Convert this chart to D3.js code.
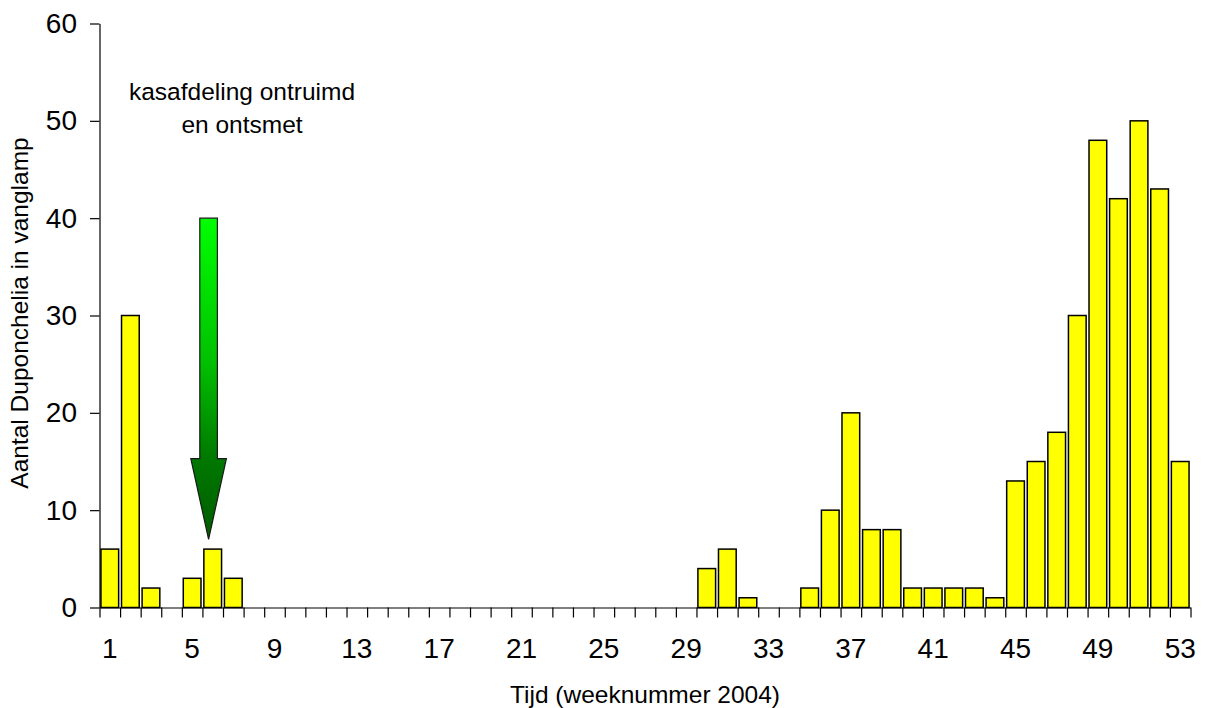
<!DOCTYPE html>
<html>
<head>
<meta charset="utf-8">
<script src="https://cdn.jsdelivr.net/npm/d3@7"></script>
<style>
  html, body { margin: 0; padding: 0; background: #fff; }
  svg { display: block; font-family: "Liberation Sans", Arial, sans-serif; }
</style>
</head>
<body>
<svg id="chart" width="1205" height="708"></svg>
<script>
// Week numbers of 2004 (categories)
const weeks = [1, 2, 3, 4, 5, 6, 7, 8, 9, 10, 11, 12, 13, 14, 15, 16, 17, 18, 19, 20,
  21, 22, 23, 24, 25, 26, 27, 28, 29, 30, 31, 32, 33, 34, 35, 36, 37, 38, 39, 40,
  41, 42, 43, 44, 45, 46, 47, 48, 49, 50, 51, 52, 53];

// Number of Duponchelia moths caught in the light trap per week
const catches = [6, 30, 2, 0, 3, 6, 3, 0, 0, 0, 0, 0, 0, 0, 0, 0, 0, 0, 0, 0,
  0, 0, 0, 0, 0, 0, 0, 0, 0, 4, 6, 1, 0, 0, 2, 10, 20, 8, 8, 2,
  2, 2, 2, 1, 13, 15, 18, 30, 48, 42, 50, 43, 15];

// Axis tick labels
const xTickWeeks = [1, 5, 9, 13, 17, 21, 25, 29, 33, 37, 41, 45, 49, 53];
const yTickValues = [0, 10, 20, 30, 40, 50, 60];

// Annotation: greenhouse section cleared and disinfected
const noteLines = ["kasafdeling ontruimd", "en ontsmet"];
const arrowWeek = 5.8;     // position on the continuous week axis
const arrowFrom = 40;      // top of the arrow (count units)
const arrowHeadAt = 15.3;  // where the arrow head starts
const arrowTo = 7;         // arrow tip

const svg = d3.select("#chart");
const plotLeft = 99.5, plotRight = 1190.5, plotTop = 23.5, plotBottom = 607.5;

// Scales
const xBar = d3.scaleBand().domain(weeks).range([plotLeft, plotRight])
  .paddingInner(0.14).paddingOuter(0.07);
const xEdge = d3.scaleLinear().domain([0.5, 53.5]).range([plotLeft, plotRight]);
const y = d3.scaleLinear().domain([0, 60]).range([plotBottom, plotTop]);

// Bars
svg.append("g")
  .selectAll("rect")
  .data(weeks.map((w, i) => ({ week: w, value: catches[i] })).filter(d => d.value > 0))
  .join("rect")
  .attr("x", d => xBar(d.week))
  .attr("y", d => y(d.value))
  .attr("width", xBar.bandwidth())
  .attr("height", d => y(0) - y(d.value))
  .attr("fill", "#ffff00")
  .attr("stroke", "#000")
  .attr("stroke-width", 1.5);

// Y axis
const yAxis = svg.append("g")
  .attr("transform", `translate(${plotLeft},0)`)
  .call(d3.axisLeft(y).tickValues(yTickValues).tickSize(9.5).tickSizeOuter(0).tickPadding(13));
yAxis.selectAll("text").attr("font-size", 28).attr("fill", "#000")
  .attr("font-family", "'Liberation Sans', Arial, sans-serif");

// X axis: tick marks on week boundaries
const edges = weeks.map(w => w - 0.5).concat([53.5]);
svg.append("g")
  .attr("transform", `translate(0,${plotBottom})`)
  .call(d3.axisBottom(xEdge).tickValues(edges).tickSize(10).tickSizeOuter(0).tickFormat(""));

// X axis: labels centred under weeks
const xAxisLabels = svg.append("g")
  .attr("transform", `translate(0,${plotBottom})`)
  .call(d3.axisBottom(xBar).tickValues(xTickWeeks).tickSize(0).tickPadding(31));
xAxisLabels.select(".domain").remove();
xAxisLabels.selectAll("text").attr("font-size", 28).attr("fill", "#000")
  .attr("font-family", "'Liberation Sans', Arial, sans-serif");

svg.selectAll(".domain, .tick line").attr("stroke", "#000").attr("stroke-width", 1.2);

// Axis titles
svg.append("text")
  .attr("x", 645).attr("y", 703)
  .attr("text-anchor", "middle")
  .attr("font-size", 24.5)
  .text("Tijd (weeknummer 2004)");

svg.append("text")
  .attr("transform", "translate(28,313) rotate(-90)")
  .attr("text-anchor", "middle")
  .attr("font-size", 24.5)
  .text("Aantal Duponchelia in vanglamp");

// Annotation text
svg.append("text")
  .attr("text-anchor", "middle")
  .attr("font-size", 24.5)
  .selectAll("tspan")
  .data(noteLines)
  .join("tspan")
  .attr("x", 242)
  .attr("y", (d, i) => 100 + i * 33)
  .text(d => d);

// Arrow with green gradient
const defs = svg.append("defs");
const grad = defs.append("linearGradient")
  .attr("id", "arrowGreen")
  .attr("gradientUnits", "userSpaceOnUse")
  .attr("x1", 0).attr("x2", 0)
  .attr("y1", y(arrowFrom)).attr("y2", y(arrowTo));
grad.append("stop").attr("offset", "0%").attr("stop-color", "#00ff00");
grad.append("stop").attr("offset", "45%").attr("stop-color", "#00c000");
grad.append("stop").attr("offset", "75%").attr("stop-color", "#007800");
grad.append("stop").attr("offset", "100%").attr("stop-color", "#005c00");

const ax = xEdge(arrowWeek);
const shaftHalf = 8.8, headHalf = 17.8;
const arrowPts = [
  [ax - shaftHalf, y(arrowFrom)],
  [ax + shaftHalf, y(arrowFrom)],
  [ax + shaftHalf, y(arrowHeadAt)],
  [ax + headHalf, y(arrowHeadAt)],
  [ax, y(arrowTo)],
  [ax - headHalf, y(arrowHeadAt)],
  [ax - shaftHalf, y(arrowHeadAt)]
];
svg.append("path")
  .attr("d", d3.line()(arrowPts) + "Z")
  .attr("fill", "url(#arrowGreen)")
  .attr("stroke", "#1a1a1a")
  .attr("stroke-width", 1.2)
  .attr("stroke-linejoin", "miter");
</script>
</body>
</html>
